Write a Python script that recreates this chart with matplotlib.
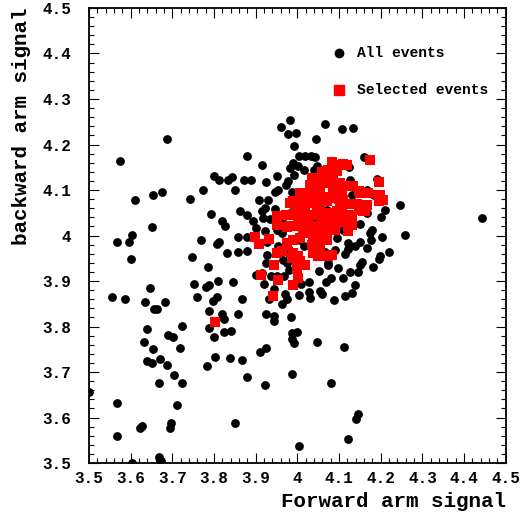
import matplotlib
matplotlib.use("Agg")
import matplotlib.pyplot as plt
from matplotlib.ticker import MultipleLocator

# all events (forward, backward)
all_x = [3.687, 3.574, 3.610, 3.654, 3.674, 3.742, 3.773, 3.652, 3.602, 3.567,
         3.595, 3.601, 3.768, 3.748, 3.793, 3.800, 3.812, 3.834, 3.844, 3.851,
         3.872, 3.889, 3.879, 3.915, 3.925, 3.820, 3.826, 3.863, 3.878, 3.808,
         3.813, 3.830, 3.858, 3.858, 3.878, 3.879, 3.786, 3.751, 3.759, 3.647,
         3.556, 3.587, 3.635, 3.655, 3.664, 3.682, 3.780, 3.788, 3.810, 3.798,
         3.806, 3.846, 3.868, 3.788, 3.820, 3.824, 3.858, 3.640, 3.631, 3.723,
         3.690, 3.701, 3.718, 3.654, 3.640, 3.650, 3.670, 3.688, 3.704, 3.668,
         3.722, 3.787, 3.800, 3.823, 3.841, 3.802, 3.784, 3.838, 3.866, 3.879,
         3.501, 3.566, 3.710, 3.623, 3.627, 3.697, 3.695, 3.850, 3.567, 3.603,
         3.667, 3.673,
         3.983, 3.960, 3.977, 3.997, 4.066, 4.106, 4.134, 4.045, 3.991, 4.004,
         4.017, 4.033, 4.043, 3.990, 3.982, 4.001, 4.016, 4.046, 4.124, 4.159,
         3.952, 3.992, 3.978, 3.972, 3.954, 3.946, 3.986, 3.909, 3.929, 3.914,
         3.923, 3.893, 3.900, 3.918, 3.935, 3.947, 3.923, 3.951, 3.953, 3.927,
         3.926, 3.924, 3.900, 3.915, 3.936, 3.920, 3.952, 3.967, 3.945, 3.932,
         3.970, 3.975, 3.964, 4.004, 4.008, 4.027, 4.027, 4.030, 4.054, 4.060,
         4.068, 4.080, 4.087, 4.097, 4.052, 4.074, 4.109, 4.115, 4.126, 4.130,
         4.139, 4.145, 4.151, 4.156, 4.182, 4.196, 4.198, 4.220, 4.203, 4.200,
         4.209, 4.247, 4.258, 4.444, 4.191, 4.184, 4.168, 4.166, 4.151, 4.174,
         4.179, 4.176, 4.167, 4.151, 4.138, 4.122, 4.113, 4.126, 4.130, 4.132,
         4.122, 4.090, 4.078, 4.074, 4.066, 4.094, 4.110, 4.006, 4.016, 3.982,
         3.974, 3.980, 3.966, 3.956, 3.978, 3.963, 3.966, 3.983, 4.010, 4.026,
         4.038, 4.054, 4.070, 4.022, 4.032, 4.076, 4.040, 4.096,
         3.924, 3.943, 3.943, 3.984, 3.988, 3.998, 3.986, 3.991, 4.048, 4.112,
         3.911, 3.924, 3.923, 3.988, 4.080, 4.145, 4.140, 4.122, 4.004]
all_y = [4.212, 4.163, 4.078, 4.088, 4.095, 4.081, 4.101, 4.018, 4.002, 3.986,
         3.985, 3.948, 3.991, 3.953, 4.047, 4.130, 4.123, 4.123, 4.128, 4.101,
         4.123, 4.123, 4.175, 4.154, 4.118, 4.031, 4.022, 4.054, 4.045, 3.982,
         3.986, 3.962, 3.997, 3.964, 3.997, 3.965, 3.930, 3.893, 3.866, 3.884,
         3.866, 3.861, 3.854, 3.838, 3.838, 3.854, 3.888, 3.891, 3.901, 3.857,
         3.866, 3.899, 3.861, 3.834, 3.828, 3.817, 3.827, 3.795, 3.767, 3.802,
         3.781, 3.776, 3.753, 3.751, 3.724, 3.720, 3.729, 3.715, 3.693, 3.676,
         3.676, 3.797, 3.777, 3.789, 3.790, 3.734, 3.714, 3.730, 3.726, 3.690,
         3.656, 3.633, 3.627, 3.577, 3.581, 3.588, 3.578, 3.589, 3.559, 3.500,
         3.513, 3.504,
         4.253, 4.238, 4.224, 4.226, 4.246, 4.234, 4.237, 4.212, 4.197, 4.175,
         4.174, 4.175, 4.172, 4.159, 4.148, 4.152, 4.143, 4.152, 4.151, 4.172,
         4.130, 4.133, 4.119, 4.112, 4.101, 4.096, 4.095, 4.077, 4.077, 4.053,
         4.061, 4.031, 4.017, 4.038, 4.036, 4.058, 4.011, 4.013, 3.978, 3.985,
         3.958, 3.940, 3.914, 3.918, 3.912, 3.893, 3.910, 3.912, 3.883, 3.861,
         3.872, 3.861, 3.850, 3.869, 3.893, 3.897, 3.875, 3.863, 3.878, 3.872,
         3.899, 3.907, 3.858, 3.929, 3.921, 3.936, 3.906, 3.868, 3.919, 3.874,
         3.892, 3.919, 3.936, 3.942, 3.930, 3.949, 3.954, 3.963, 3.997, 4.040,
         4.057, 4.066, 4.001, 4.039, 4.125, 4.090, 4.099, 4.049, 4.026, 4.005,
         4.013, 3.991, 3.973, 3.985, 3.978, 3.970, 3.960, 4.121, 4.090, 4.031,
         3.983, 3.969, 3.956, 3.940, 3.963, 3.994, 4.013, 3.991, 3.976, 3.958,
         3.940, 3.925, 3.947, 3.962, 3.973, 4.005, 4.027, 4.049, 4.057, 4.079,
         4.035, 4.006, 4.057, 4.013, 4.108, 4.119, 4.145, 4.079,
         3.828, 3.824, 3.813, 3.822, 3.786, 3.789, 3.773, 3.764, 3.766, 3.756,
         3.743, 3.752, 3.671, 3.695, 3.677, 3.607, 3.597, 3.552, 3.537]

# selected events
sel_x = [4.174, 4.196, 4.194, 4.195, 4.170, 4.148, 4.143, 4.148, 4.162, 4.122,
         4.122, 4.122, 4.110, 4.084, 4.094, 4.074, 4.060, 4.034, 4.062, 4.086,
         4.124, 4.106, 4.086, 4.054, 4.038, 4.006, 4.018, 3.990, 3.982, 4.010,
         4.030, 4.054, 4.078, 4.102, 4.102, 4.078, 4.054, 4.042, 4.018, 4.002,
         3.994, 3.972, 3.951, 3.950, 3.975, 4.002, 4.022, 4.038, 4.058, 4.078,
         4.098, 4.090, 4.070, 4.050, 4.030, 4.014, 4.054, 4.034, 4.054, 4.050,
         4.038, 4.074, 3.990, 3.974, 3.986, 4.002, 4.006, 4.018, 3.998, 4.002,
         3.990, 3.954, 3.942, 3.944, 3.952, 3.931, 3.907, 3.898, 3.912, 3.802,
         4.044, 4.066, 4.092, 4.112, 4.026, 4.046, 4.070, 4.094, 4.030, 4.062,
         4.094, 4.118, 4.070, 4.042, 4.074, 4.102, 4.134, 4.022, 4.054, 4.094,
         4.150, 4.198, 3.998, 4.034, 4.070, 4.110, 4.166, 4.206, 3.978, 4.014,
         4.046, 4.106, 4.130, 4.158, 3.982, 4.022, 4.058, 4.086, 4.130, 3.974,
         4.006, 4.038, 4.070, 3.990, 4.038, 4.082, 3.962]
sel_y = [4.165, 4.117, 4.090, 4.075, 4.093, 4.097, 4.070, 4.057, 4.055, 4.070,
         4.042, 4.009, 4.158, 4.161, 4.141, 4.145, 4.139, 4.126, 4.121, 4.121,
         4.109, 4.101, 4.101, 4.101, 4.093, 4.093, 4.090, 4.075, 4.071, 4.071,
         4.071, 4.079, 4.082, 4.079, 4.057, 4.049, 4.060, 4.046, 4.049, 4.042,
         4.057, 4.046, 4.044, 4.024, 4.018, 4.020, 4.027, 4.020, 4.031, 4.027,
         4.035, 4.013, 4.013, 4.006, 4.006, 4.006, 3.991, 3.980, 3.973, 3.954,
         3.962, 3.954, 3.991, 3.976, 3.951, 3.954, 3.943, 3.936, 3.929, 3.907,
         3.892, 3.903, 3.868, 3.936, 3.962, 3.992, 3.981, 3.997, 3.914, 3.811,
         4.110, 4.085, 4.110, 4.030, 4.040, 4.060, 4.045, 4.055, 4.110, 4.130,
         4.156, 4.156, 4.141, 4.126, 4.115, 4.115, 4.108, 4.093, 4.093, 4.097,
         4.093, 4.090, 4.075, 4.071, 4.075, 4.079, 4.068, 4.079, 4.046, 4.046,
         4.053, 4.053, 4.046, 4.053, 4.020, 4.024, 4.027, 4.020, 4.024, 3.984,
         3.995, 3.998, 3.991, 3.962, 3.969, 3.958, 3.965]

font = "Liberation Mono"

fig = plt.figure(figsize=(5.28, 5.18), dpi=100)
ax = fig.add_axes([0.1686, 0.106, 0.7894, 0.8786])

ax.scatter(all_x, all_y, s=40, c="black", marker="o", linewidths=0, zorder=2)
ax.scatter(sel_x, sel_y, s=46, c="#ff0000", marker="s", linewidths=0, zorder=3)

ax.set_xlim(3.5, 4.5)
ax.set_ylim(3.5, 4.5)

ax.xaxis.set_major_locator(MultipleLocator(0.1))
ax.xaxis.set_minor_locator(MultipleLocator(0.02))
ax.yaxis.set_major_locator(MultipleLocator(0.1))
ax.yaxis.set_minor_locator(MultipleLocator(0.02))

def fmt(v, pos):
    s = "%.1f" % v
    return s[:-2] if s.endswith(".0") else s

ax.xaxis.set_major_formatter(plt.FuncFormatter(fmt))
ax.yaxis.set_major_formatter(plt.FuncFormatter(fmt))

ax.tick_params(which="both", direction="in", top=True, right=True, width=0.8)
ax.tick_params(which="major", length=7)
ax.tick_params(which="minor", length=3.5)
ax.tick_params(axis="x", which="major", pad=6)
ax.tick_params(axis="y", which="major", pad=13)
for lab in ax.get_xticklabels() + ax.get_yticklabels():
    lab.set_fontfamily(font)
    lab.set_fontweight("bold")
    lab.set_fontsize(11.5)
for sp in ax.spines.values():
    sp.set_linewidth(1.3)

ax.set_xlabel("Forward arm signal", fontfamily=font, fontweight="bold",
              fontsize=15, loc="right", labelpad=4)
ax.set_ylabel("backward arm signal", fontfamily=font, fontweight="bold",
              fontsize=15, loc="top", labelpad=8)

# legend
ax.plot(0.600, 0.900, "o", color="black", ms=6, transform=ax.transAxes)
ax.text(0.642, 0.900, "All events", transform=ax.transAxes, va="center",
        fontfamily=font, fontweight="bold", fontsize=10.5)
ax.plot(0.600, 0.820, "s", color="#ff0000", ms=6.5, transform=ax.transAxes)
ax.text(0.642, 0.820, "Selected events", transform=ax.transAxes, va="center",
        fontfamily=font, fontweight="bold", fontsize=10.5)

fig.savefig("out.png", dpi=100)
